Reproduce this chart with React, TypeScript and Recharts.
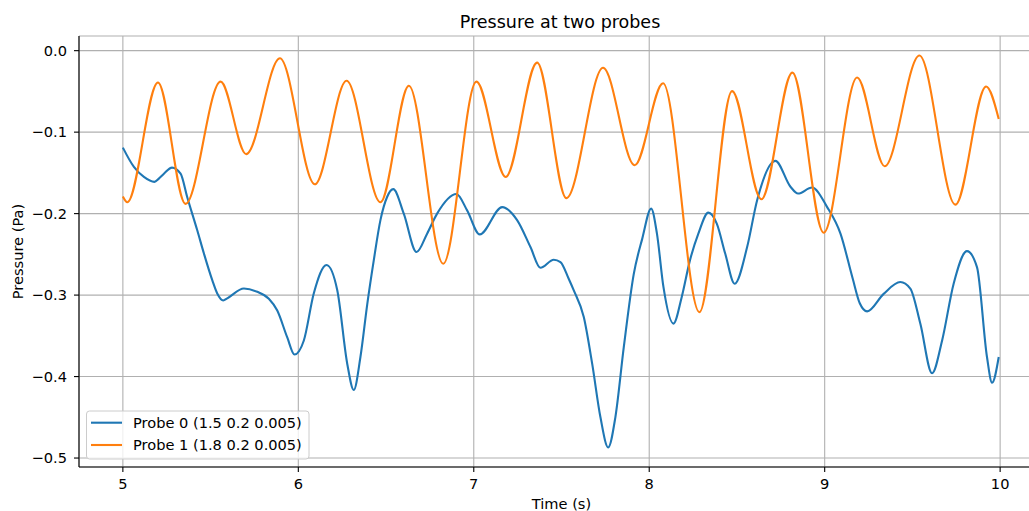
import React from "react";
import { LineChart, Line, XAxis, YAxis, CartesianGrid, Label } from "recharts";

const probe0Time = [
  5.0, 5.063, 5.12, 5.18, 5.205, 5.234, 5.28, 5.329, 5.367, 5.424, 5.462, 5.51, 5.538, 5.572, 5.595,
  5.69, 5.766, 5.832, 5.88, 5.937, 5.978, 6.031, 6.088, 6.161, 6.222, 6.279, 6.316, 6.354, 6.393,
  6.43, 6.468, 6.506, 6.541, 6.601, 6.674, 6.734, 6.791, 6.901, 6.962, 7.034, 7.162, 7.247, 7.323,
  7.38, 7.456, 7.494, 7.541, 7.57, 7.627, 7.675, 7.722, 7.766, 7.807, 7.855, 7.912, 7.96, 8.011,
  8.044, 8.081, 8.138, 8.185, 8.232, 8.28, 8.337, 8.385, 8.433, 8.487, 8.558, 8.615, 8.719, 8.805,
  8.848, 8.928, 9.014, 9.09, 9.16, 9.2, 9.242, 9.336, 9.431, 9.488, 9.545, 9.612, 9.669, 9.735,
  9.811, 9.868, 9.925, 9.954, 9.992,
];
const probe0Pressure = [
  -0.119, -0.1427, -0.155, -0.161, -0.157, -0.151, -0.1435, -0.151, -0.18, -0.2205, -0.249, -0.282,
  -0.298, -0.3066, -0.304, -0.292, -0.296, -0.3046, -0.319, -0.352, -0.373, -0.356, -0.298, -0.263,
  -0.294, -0.3845, -0.4165, -0.376, -0.311, -0.2574, -0.208, -0.1796, -0.17, -0.2, -0.2472, -0.2246,
  -0.2, -0.176, -0.196, -0.2255, -0.192, -0.208, -0.241, -0.2665, -0.2566, -0.2595, -0.28, -0.2943,
  -0.327, -0.3845, -0.45, -0.487, -0.45, -0.364, -0.274, -0.231, -0.1939, -0.2246, -0.29, -0.335,
  -0.3026, -0.2574, -0.2246, -0.1988, -0.2123, -0.249, -0.2861, -0.241, -0.1836, -0.1353, -0.167,
  -0.1754, -0.168, -0.192, -0.2246, -0.28, -0.31, -0.32, -0.2985, -0.284, -0.292, -0.335, -0.396,
  -0.356, -0.286, -0.246, -0.2657, -0.376, -0.4075, -0.376,
];

const probe1Time = [
  5.0, 5.025, 5.2, 5.357, 5.557, 5.703, 5.895, 6.094, 6.275, 6.468, 6.63, 6.826, 7.015, 7.182, 7.361,
  7.528, 7.737, 7.917, 8.079, 8.286, 8.472, 8.639, 8.816, 8.994, 9.185, 9.342, 9.54, 9.745, 9.92, 9.992,
];
const probe1Pressure = [
  -0.179, -0.186, -0.039, -0.188, -0.038, -0.127, -0.0094, -0.164, -0.037, -0.186, -0.043, -0.2615,
  -0.038, -0.155, -0.0147, -0.181, -0.021, -0.1406, -0.04, -0.321, -0.0496, -0.1824, -0.027, -0.2234,
  -0.033, -0.1418, -0.006, -0.189, -0.044, -0.084,
];

const xTicks = [5, 6, 7, 8, 9, 10];
const yTicks = [0, -0.1, -0.2, -0.3, -0.4, -0.5];
const seriesNames = ["Probe 0 (1.5 0.2 0.005)", "Probe 1 (1.8 0.2 0.005)"];
const seriesColors = ["#1f77b4", "#ff7f0e"];

const probe0Data = probe0Time.map((t, i) => ({ t, p: probe0Pressure[i] }));
const probe1Data = probe1Time.map((t, i) => ({ t, p: probe1Pressure[i] }));

const FONT = "'DejaVu Sans', sans-serif";
const FS = 14.6;

const fmtY = (v: number) => (Math.abs(v) < 1e-9 ? "0.0" : "\u2212" + Math.abs(v).toFixed(1));

export default function App() {
  return (
    <div style={{ position: "absolute", left: 0, top: 0, width: 1029, height: 511, overflow: "hidden", background: "#fff" }}>
      <LineChart width={1045} height={511} margin={{ top: 36, right: 1, bottom: 0, left: 0 }}>
        <CartesianGrid stroke="#b0b0b0" strokeWidth={1.1} />
        <XAxis
          dataKey="t"
          type="number"
          domain={[4.75, 10.25]}
          allowDataOverflow
          ticks={xTicks}
          height={44}
          tickSize={5}
          tickMargin={7}
          axisLine={{ stroke: "#000", strokeWidth: 1.1 }}
          tickLine={{ stroke: "#000", strokeWidth: 1.1 }}
          tick={{ fill: "#000", fontSize: FS, fontFamily: FONT }}
          tickFormatter={(v: number) => String(v)}
        >
          <Label
            content={(props: any) => {
              const vb = props.viewBox || {};
              return (
                <text x={vb.x + vb.width / 2} y={vb.y + vb.height - 2} textAnchor="middle" fontSize={FS} fontFamily={FONT} fill="#000">
                  Time (s)
                </text>
              );
            }}
          />
        </XAxis>
        <XAxis
          xAxisId="top"
          orientation="top"
          type="number"
          domain={[4.75, 10.25]}
          allowDataOverflow
          height={0}
          tick={false}
          tickLine={false}
          axisLine={{ stroke: "#000", strokeWidth: 1.1 }}
        />
        <YAxis
          type="number"
          domain={[-0.511, 0.018]}
          allowDataOverflow
          ticks={yTicks}
          width={79}
          tickSize={5}
          tickMargin={7}
          axisLine={{ stroke: "#000", strokeWidth: 1.1 }}
          tickLine={{ stroke: "#000", strokeWidth: 1.1 }}
          tick={{ fill: "#000", fontSize: FS, fontFamily: FONT }}
          tickFormatter={fmtY}
        >
          <Label
            content={(props: any) => {
              const vb = props.viewBox || {};
              const cx = 23;
              const cy = vb.y + vb.height / 2;
              return (
                <text x={cx} y={cy} transform={`rotate(-90, ${cx}, ${cy})`} textAnchor="middle" fontSize={FS} fontFamily={FONT} fill="#000">
                  Pressure (Pa)
                </text>
              );
            }}
          />
        </YAxis>
        <YAxis
          yAxisId="right"
          orientation="right"
          type="number"
          domain={[-0.511, 0.018]}
          allowDataOverflow
          width={0}
          tick={false}
          tickLine={false}
          axisLine={{ stroke: "#000", strokeWidth: 1.1 }}
        />
        <Line
          data={probe0Data}
          dataKey="p"
          type="monotone"
          stroke={seriesColors[0]}
          strokeWidth={2.1}
          dot={false}
          activeDot={false}
          isAnimationActive={false}
          name={seriesNames[0]}
        />
        <Line
          data={probe1Data}
          dataKey="p"
          type="monotone"
          stroke={seriesColors[1]}
          strokeWidth={2.1}
          dot={false}
          activeDot={false}
          isAnimationActive={false}
          name={seriesNames[1]}
        />
      </LineChart>
      <svg width={1029} height={511} style={{ position: "absolute", left: 0, top: 0, pointerEvents: "none" }}>
        <text x={560} y={27.5} textAnchor="middle" fontSize={17.5} fontFamily={FONT} fill="#000">
          Pressure at two probes
        </text>
        <rect x={86.5} y={411} width={222.5} height={48} rx={3} ry={3} fill="rgba(255,255,255,0.8)" stroke="#cccccc" strokeWidth={1} />
        {seriesNames.map((name, i) => (
          <g key={name}>
            <line x1={91} x2={122} y1={422.7 + i * 22.3} y2={422.7 + i * 22.3} stroke={seriesColors[i]} strokeWidth={2.1} />
            <text x={133} y={427.8 + i * 22.3} fontSize={FS} fontFamily={FONT} fill="#000">
              {name}
            </text>
          </g>
        ))}
      </svg>
    </div>
  );
}
